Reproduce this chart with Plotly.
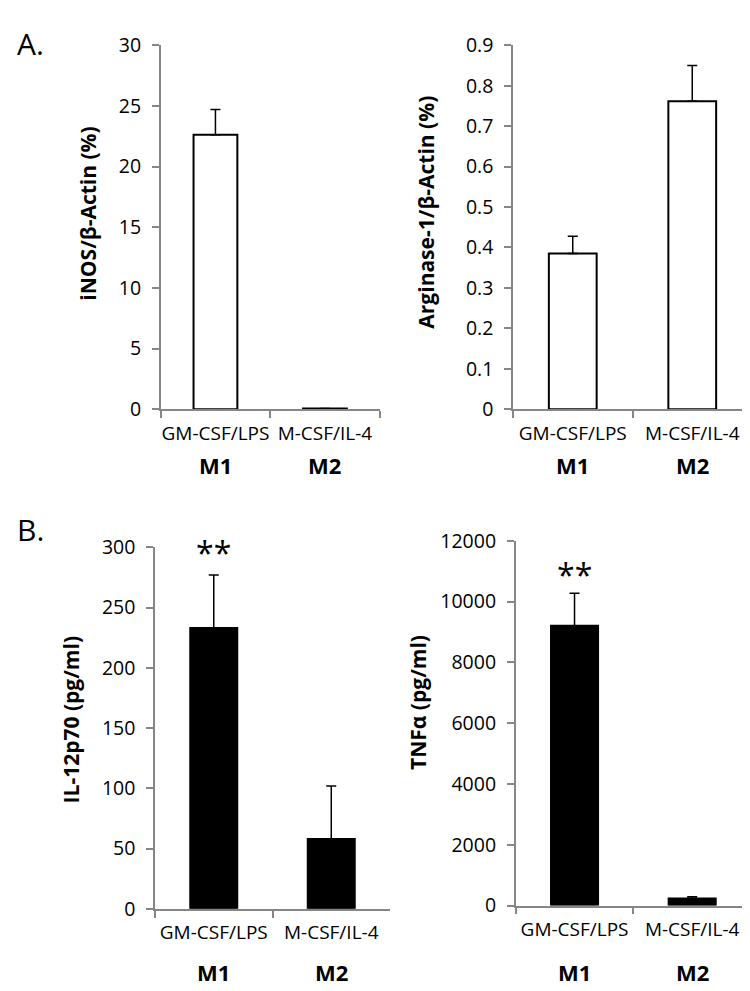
import plotly.graph_objects as go

categories = ["GM-CSF/LPS", "M-CSF/IL-4"]
groups = ["M1", "M2"]

inos_vals = [22.62, 0.05]
inos_err = [2.1, 0.0]
arg_vals = [0.385, 0.762]
arg_err = [0.043, 0.088]
il12_vals = [233, 58]
il12_err = [44, 44]
tnf_vals = [9205, 230]
tnf_err = [1070, 60]

W, H = 750, 991
FONT = "Open Sans"
AXC = "#868686"

def px(x0, x1):
    return [x0 / W, x1 / W]

def py(top, bottom):
    return [1 - bottom / H, 1 - top / H]

panels = [
    dict(vals=inos_vals, err=inos_err, fill="white", xd=px(152.7, 371.7), yd=py(24, 398),
         yr=[0, 30], dt=5, title="iNOS/β-Actin (%)", tx=80, ty=197, my=455),
    dict(vals=arg_vals, err=arg_err, fill="white", xd=px(505, 744), yd=py(24, 398),
         yr=[0, 0.9], dt=0.1, title="Arginase-1/β-Actin (%)", tx=418, ty=196, my=455),
    dict(vals=il12_vals, err=il12_err, fill="black", xd=px(147, 382), yd=py(540, 911.7),
         yr=[0, 300], dt=50, title="IL-12p70 (pg/ml)", tx=63, ty=718, my=977),
    dict(vals=tnf_vals, err=tnf_err, fill="black", xd=px(507.7, 743), yd=py(533.3, 908.3),
         yr=[0, 12000], dt=2000, title="TNFα (pg/ml)", tx=410, ty=700, my=977),
]

fig = go.Figure()
annotations = []
layout = {}
for i, p in enumerate(panels):
    n = "" if i == 0 else str(i + 1)
    fig.add_trace(go.Bar(
        x=categories, y=p["vals"], width=0.4,
        marker=dict(color=p["fill"], line=dict(color="black", width=2)),
        error_y=dict(type="data", array=p["err"], symmetric=False, arrayminus=[0, 0],
                     color="black", thickness=1.5, width=5),
        xaxis="x" + n, yaxis="y" + n, showlegend=False,
    ))
    layout["xaxis" + n] = dict(
        domain=p["xd"], anchor="y" + n, type="category", range=[-0.5, 1.5],
        showline=True, linecolor=AXC, linewidth=1.5, ticks="outside", tickson="boundaries",
        ticklen=7, tickcolor=AXC, tickwidth=1.5, showgrid=False, zeroline=False,
        tickfont=dict(family=FONT, size=19, color="black"), ticklabelstandoff=6,
        tickangle=0, fixedrange=True,
    )
    layout["yaxis" + n] = dict(
        domain=p["yd"], anchor="x" + n, range=p["yr"], dtick=p["dt"], tick0=0,
        showline=True, linecolor=AXC, linewidth=1.5, ticks="outside", ticklen=7,
        tickcolor=AXC, tickwidth=1.5, showgrid=False, zeroline=False, tickformat="~g",
        tickfont=dict(family=FONT, size=19.5, color="black"), ticklabelstandoff=7,
    )
    annotations.append(dict(
        text="<b>" + p["title"] + "</b>", textangle=-90, xref="paper", yref="paper",
        x=p["tx"] / W, y=1 - p["ty"] / H, showarrow=False, xanchor="center", yanchor="middle",
        font=dict(family=FONT, size=21, color="black"),
    ))
    for c, g in zip(categories, groups):
        annotations.append(dict(
            text="<b>" + g + "</b>", xref="x" + n, yref="paper", x=c, y=1 - p["my"] / H,
            showarrow=False, xanchor="center", yanchor="middle",
            font=dict(family=FONT, size=22, color="black"),
        ))

# significance markers
for n, yv in [("3", 545), ("4", 568)]:
    annotations.append(dict(
        text="**", xref="x" + n, yref="paper", x=categories[0], y=1 - yv / H,
        showarrow=False, xanchor="center", yanchor="middle",
        font=dict(family=FONT, size=32, color="black"),
    ))

# panel letters
annotations.append(dict(text="A.", xref="paper", yref="paper", x=22 / W, y=1 - 22 / H,
                        showarrow=False, xanchor="center", yanchor="middle",
                        font=dict(family=FONT, size=30, color="black")))
annotations.append(dict(text="B.", xref="paper", yref="paper", x=22 / W, y=1 - 522 / H,
                        showarrow=False, xanchor="center", yanchor="middle",
                        font=dict(family=FONT, size=30, color="black")))

fig.update_layout(
    width=W, height=H, margin=dict(l=0, r=0, t=0, b=0),
    paper_bgcolor="white", plot_bgcolor="white",
    annotations=annotations, **layout,
)
fig.write_html("out.html")
